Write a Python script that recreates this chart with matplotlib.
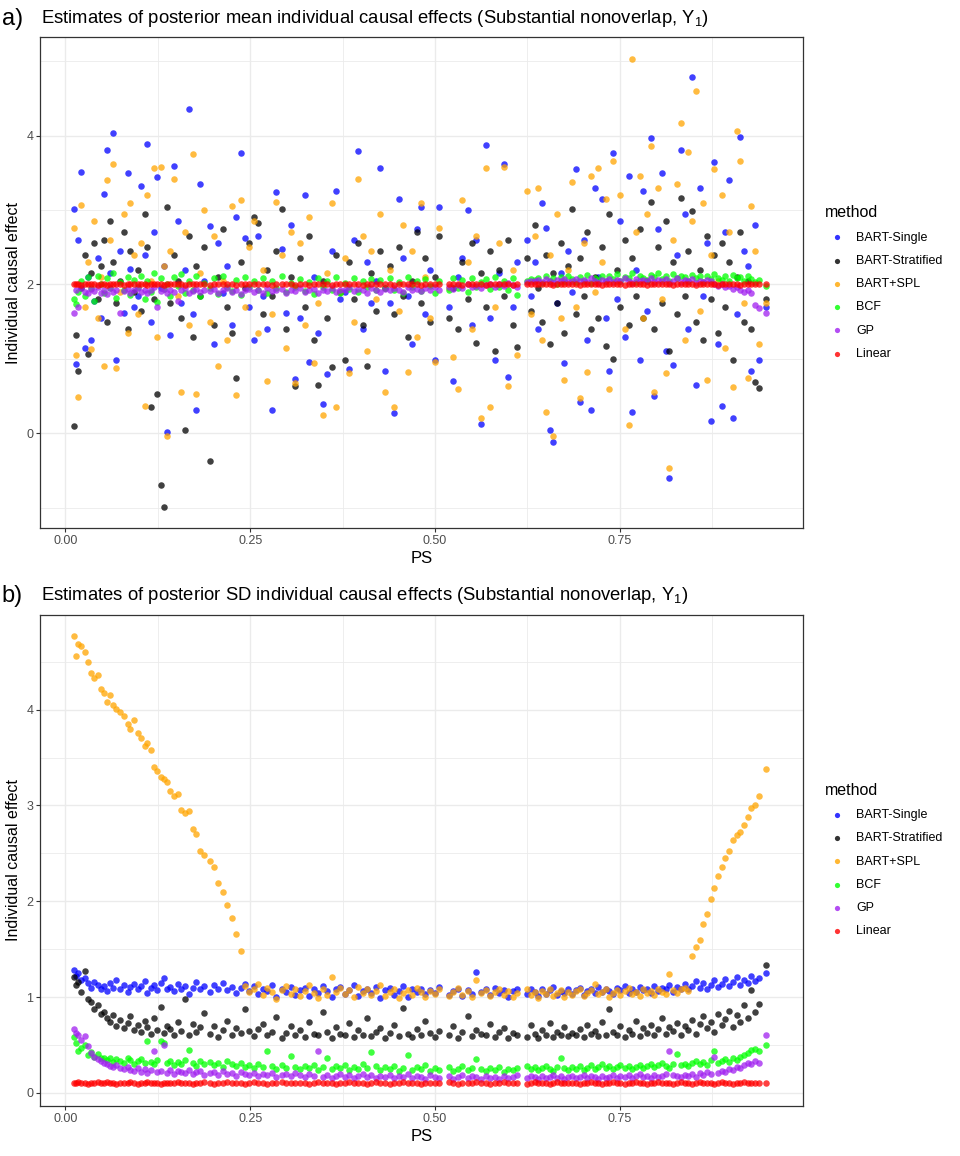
import matplotlib.pyplot as plt
from matplotlib.ticker import MultipleLocator

# propensity score of each unit (shared by every method)
ps = [
    0.011, 0.014, 0.017, 0.021, 0.026, 0.030, 0.035, 0.039, 0.044, 0.048,
    0.052, 0.056, 0.060, 0.065, 0.069, 0.074, 0.079, 0.084, 0.088, 0.093,
    0.098, 0.102, 0.107, 0.111, 0.116, 0.120, 0.124, 0.129, 0.133, 0.137,
    0.142, 0.147, 0.152, 0.157, 0.162, 0.167, 0.172, 0.177, 0.182, 0.188,
    0.195, 0.201, 0.207, 0.213, 0.219, 0.225, 0.231, 0.237, 0.243, 0.249,
    0.255, 0.261, 0.267, 0.273, 0.279, 0.285, 0.293, 0.299, 0.305, 0.311,
    0.318, 0.324, 0.330, 0.336, 0.342, 0.348, 0.354, 0.360, 0.366, 0.372,
    0.378, 0.384, 0.390, 0.396, 0.402, 0.408, 0.414, 0.420, 0.426, 0.432,
    0.439, 0.445, 0.451, 0.457, 0.463, 0.469, 0.475, 0.481, 0.487, 0.493,
    0.500, 0.506, 0.519, 0.525, 0.531, 0.537, 0.544, 0.550, 0.556, 0.562,
    0.569, 0.575, 0.581, 0.587, 0.593, 0.599, 0.605, 0.611, 0.625, 0.630,
    0.635, 0.640, 0.645, 0.650, 0.655, 0.660, 0.665, 0.670, 0.675, 0.680,
    0.686, 0.691, 0.696, 0.701, 0.706, 0.711, 0.716, 0.721, 0.726, 0.731,
    0.736, 0.741, 0.746, 0.751, 0.757, 0.762, 0.767, 0.772, 0.777, 0.782,
    0.787, 0.792, 0.797, 0.802, 0.807, 0.812, 0.817, 0.822, 0.827, 0.833,
    0.838, 0.843, 0.848, 0.853, 0.858, 0.863, 0.868, 0.873, 0.878, 0.883,
    0.888, 0.893, 0.898, 0.903, 0.908, 0.913, 0.918, 0.923, 0.928, 0.933,
    0.938, 0.948,
]

# ---- panel a: posterior mean ----
mean_single = [
    3.01, 0.93, 2.60, 3.51, 1.14, 2.10, 1.25, 1.78, 2.35, 1.55,
    3.22, 3.81, 2.15, 4.04, 0.99, 2.45, 1.62, 3.50, 2.21, 1.70,
    1.85, 3.32, 2.40, 3.89, 1.50, 2.70, 3.44, 1.95, 2.25, 0.02,
    1.32, 3.59, 2.85, 1.75, 2.20, 4.36, 1.60, 0.31, 3.35, 2.05,
    2.78, 1.20, 2.55, 1.88, 2.25, 1.45, 2.90, 3.77, 2.62, 1.70,
    1.25, 2.65, 1.85, 1.40, 0.31, 3.24, 2.48, 1.62, 2.80, 0.73,
    1.55, 3.20, 0.96, 2.10, 1.35, 0.39, 0.80, 2.45, 3.25, 1.80,
    1.90, 0.87, 2.60, 3.79, 1.40, 2.30, 1.75, 2.05, 3.56, 0.84,
    1.75, 0.28, 3.15, 2.35, 1.85, 1.20, 2.75, 3.04, 1.60, 2.20,
    0.98, 3.04, 1.70, 0.71, 2.10, 2.35, 3.00, 1.45, 2.60, 0.12,
    3.87, 1.55, 0.99, 2.15, 3.62, 0.76, 1.70, 2.30, 2.60, 1.85,
    2.30, 1.40, 3.10, 2.76, 0.05, -0.11, 1.75, 2.15, 0.94, 2.45,
    1.90, 3.55, 0.42, 2.60, 1.25, 0.32, 3.30, 2.10, 3.15, 1.55,
    0.84, 3.77, 1.80, 2.85, 1.30, 3.45, 0.29, 2.20, 0.99, 3.25,
    1.65, 3.97, 0.50, 2.75, 3.50, 1.10, -0.60, 0.92, 2.40, 3.81,
    2.95, 1.40, 4.78, 0.65, 3.30, 1.85, 2.55, 0.16, 3.64, 1.20,
    0.37, 2.70, 3.40, 0.21, 1.60, 3.98, 2.45, 2.25, 0.84, 2.80,
    0.98, 1.70,
]
mean_strat = [
    0.10, 1.32, 0.84, 1.95, 2.40, 1.07, 2.15, 2.55, 1.80, 2.25,
    2.60, 1.50, 2.85, 2.30, 1.75, 2.05, 2.70, 1.40, 2.45, 1.90,
    2.20, 1.65, 2.95, 2.50, 0.35, 1.80, 0.53, -0.69, -0.99, 3.04,
    1.75, 2.40, 2.05, 1.55, 0.05, 2.65, 1.30, 2.25, 1.85, 2.50,
    -0.37, 1.45, 2.10, 2.75, 1.70, 1.35, 0.75, 2.30, 1.95, 2.55,
    2.90, 2.83, 1.60, 2.20, 1.85, 2.45, 3.01, 1.40, 2.10, 0.64,
    2.35, 1.70, 2.65, 1.25, 0.65, 2.05, 1.55, 0.89, 2.40, 1.90,
    0.99, 2.30, 1.80, 2.55, 1.45, 0.90, 2.15, 1.65, 2.45, 1.95,
    2.25, 1.60, 2.50, 1.85, 1.30, 2.05, 2.70, 1.75, 2.35, 1.50,
    2.10, 2.65, 1.55, 1.95, 1.40, 2.30, 1.80, 2.55, 1.22, 2.15,
    1.70, 2.45, 1.11, 2.20, 1.85, 2.60, 1.45, 1.16, 2.35, 1.65,
    2.80, 1.95, 1.50, 2.40, 1.20, 2.15, 1.75, 2.55, 1.35, 2.25,
    3.01, 1.60, 2.35, 1.85, 2.70, 1.40, 2.10, 1.55, 2.50, 1.17,
    2.94, 1.00, 2.20, 1.70, 2.60, 1.45, 2.35, 1.85, 2.75, 1.55,
    2.05, 3.11, 1.40, 2.50, 1.75, 2.85, 1.11, 2.30, 1.60, 3.16,
    1.85, 2.45, 2.99, 1.50, 2.20, 1.25, 2.65, 1.80, 2.40, 1.35,
    2.55, 1.70, 2.30, 0.98, 2.10, 2.70, 1.50, 2.05, 1.40, 0.69,
    0.61, 1.80,
]
mean_spl = [
    2.76, 1.05, 0.49, 3.07, 1.70, 2.30, 1.13, 2.85, 1.55, 2.10,
    0.91, 3.40, 2.60, 3.62, 0.88, 1.90, 2.95, 1.35, 3.10, 2.40,
    1.60, 2.55, 0.37, 3.20, 2.05, 3.57, 1.30, 3.58, 2.25, -0.04,
    2.45, 3.42, 1.85, 0.56, 2.70, 1.45, 3.75, 0.53, 2.15, 3.00,
    1.50, 2.65, 0.90, 2.05, 1.25, 3.05, 0.51, 3.13, 1.70, 2.50,
    2.85, 1.35, 2.20, 0.70, 1.60, 3.11, 2.40, 1.15, 2.70, 0.68,
    2.55, 1.45, 2.90, 0.95, 1.75, 0.25, 2.15, 3.10, 0.36, 1.90,
    2.35, 0.81, 1.50, 3.42, 2.65, 1.10, 2.45, 1.80, 2.95, 0.56,
    2.20, 0.35, 1.65, 2.80, 0.83, 2.45, 1.30, 3.09, 2.10, 1.55,
    0.96, 2.76, 1.95, 1.02, 0.60, 3.13, 2.30, 1.40, 2.65, 0.20,
    3.56, 0.36, 1.70, 2.55, 3.58, 0.64, 2.20, 1.05, 3.25, 1.60,
    2.65, 3.30, 1.25, 0.29, 2.40, -0.04, 2.95, 1.55, 0.72, 2.20,
    3.38, 1.70, 0.47, 2.55, 0.83, 3.45, 1.90, 3.56, 2.30, 3.15,
    0.60, 3.66, 2.05, 3.20, 1.40, 0.11, 5.03, 2.70, 3.45, 1.55,
    2.95, 3.86, 0.56, 3.30, 1.80, 0.81, -0.46, 2.60, 3.35, 4.17,
    1.25, 3.78, 2.85, 4.60, 1.65, 3.10, 0.72, 2.40, 3.55, 2.05,
    3.20, 1.15, 2.70, 0.62, 4.06, 3.66, 1.75, 0.75, 3.05, 2.45,
    1.20, 1.75,
]
mean_bcf = [
    1.80, 1.74, 1.90, 2.05, 1.85, 2.10, 1.95, 1.78, 2.12, 2.00,
    1.88, 2.08, 1.95, 2.15, 1.82, 2.03, 1.92, 2.10, 1.86, 2.06,
    1.97, 2.12, 1.80, 2.04, 1.90, 2.16, 1.76, 2.08, 1.94, 2.01,
    1.85, 2.10, 1.98, 2.14, 1.89, 2.05, 1.93, 2.11, 1.84, 2.02,
    1.95, 2.08, 1.87, 2.12, 1.97, 1.91, 2.06, 1.86, 2.10, 1.96,
    2.04, 1.92, 2.09, 1.88, 2.05, 1.95, 2.11, 1.90, 2.02, 1.97,
    2.07, 1.91, 2.03, 1.87, 2.08, 1.96, 2.05, 1.93, 2.10, 1.89,
    2.02, 1.94, 2.09, 1.90, 2.04, 1.97, 2.07, 1.92, 2.06, 1.95,
    2.08, 1.93, 2.03, 1.89, 2.10, 1.96, 2.05, 1.91, 2.07, 1.98,
    1.88, 2.04, 1.92, 2.08, 1.95, 2.06, 1.90, 2.09, 1.97, 2.03,
    2.07, 1.94, 2.10, 1.96, 2.05, 1.92, 2.08, 1.86, 2.04, 2.07,
    2.06, 2.09, 2.02, 2.11, 2.04, 2.08, 2.00, 2.10, 2.05, 2.12,
    2.07, 2.03, 2.10, 2.05, 2.13, 2.02, 2.09, 2.06, 2.12, 2.04,
    2.11, 2.07, 2.14, 2.05, 2.10, 2.08, 2.15, 2.03, 2.12, 2.09,
    2.06, 2.13, 2.10, 2.16, 2.07, 2.11, 2.04, 2.14, 2.08, 2.12,
    2.10, 2.05, 2.13, 2.08, 2.11, 2.03, 2.12, 2.07, 2.14, 2.09,
    2.06, 2.11, 2.04, 2.13, 2.08, 2.10, 2.05, 2.12, 2.07, 2.03,
    2.06, 1.98,
]
mean_gp = [
    1.62, 1.93, 1.70, 1.95, 1.90, 1.88, 1.94, 1.91, 1.96, 1.89,
    1.92, 1.87, 1.95, 1.90, 1.93, 1.62, 1.91, 1.94, 1.89, 1.92,
    1.95, 1.90, 1.93, 1.88, 1.92, 1.96, 1.70, 1.91, 1.94, 1.89,
    1.93, 1.90, 1.78, 1.92, 1.95, 1.89, 1.91, 1.94, 1.90, 1.93,
    1.91, 1.94, 1.88, 1.92, 1.95, 1.90, 1.93, 1.87, 1.92, 1.94,
    1.90, 1.93, 1.89, 1.95, 1.91, 1.92, 1.94, 1.88, 1.93, 1.91,
    1.95, 1.90, 1.92, 1.94, 1.89, 1.93, 1.91, 1.95, 1.90, 1.92,
    1.93, 1.96, 1.91, 1.94, 1.92, 1.89, 1.95, 1.93, 1.90, 1.94,
    1.92, 1.95, 1.93, 1.90, 1.96, 1.92, 1.94, 1.91, 1.95, 1.93,
    1.96, 1.93, 1.97, 1.94, 1.99, 1.95, 2.00, 1.96, 1.98, 1.95,
    1.99, 2.01, 1.97, 2.00, 1.98, 2.02, 1.99, 1.97, 2.03, 2.05,
    2.04, 2.06, 2.03, 2.07, 2.05, 2.02, 2.06, 2.04, 2.07, 2.03,
    2.05, 2.07, 2.04, 2.06, 2.03, 2.08, 2.05, 2.02, 2.06, 2.04,
    2.07, 2.03, 2.06, 2.04, 2.08, 2.05, 2.02, 2.07, 2.04, 2.06,
    2.05, 2.08, 2.03, 2.06, 2.04, 2.07, 2.02, 2.05, 2.08, 2.03,
    2.06, 2.04, 2.07, 2.02, 2.05, 2.03, 2.06, 2.04, 2.01, 1.98,
    2.00, 1.96, 1.98, 1.94, 1.97, 1.92, 1.90, 1.93, 1.88, 1.72,
    1.68, 1.62,
]
mean_linear = [
    2.00, 2.01, 2.00, 1.99, 2.00, 2.00, 2.01, 2.00, 1.99, 2.00,
    2.00, 1.99, 2.00, 2.01, 2.00, 2.00, 1.99, 2.00, 2.01, 2.00,
    2.01, 2.00, 2.00, 1.99, 2.00, 2.01, 2.00, 2.00, 1.99, 2.00,
    2.00, 2.00, 2.01, 2.00, 1.99, 2.00, 2.00, 2.01, 2.00, 2.00,
    1.99, 2.00, 2.00, 2.01, 2.00, 2.00, 1.99, 2.00, 2.00, 2.01,
    2.00, 2.01, 2.00, 2.00, 1.99, 2.00, 2.01, 2.00, 2.00, 1.99,
    2.00, 2.00, 1.99, 2.00, 2.01, 2.00, 2.00, 1.99, 2.00, 2.01,
    2.01, 2.00, 2.00, 2.00, 1.99, 2.00, 2.01, 2.00, 2.00, 2.00,
    2.00, 1.99, 2.00, 2.01, 2.00, 2.00, 2.00, 1.99, 2.01, 2.00,
    2.00, 2.00, 2.01, 2.00, 2.00, 1.99, 2.00, 2.00, 2.01, 2.00,
    1.99, 2.00, 2.00, 2.01, 2.00, 2.00, 1.99, 2.00, 2.00, 2.01,
    2.00, 2.01, 2.00, 2.00, 2.00, 1.99, 2.00, 2.01, 2.00, 2.00,
    2.01, 2.00, 1.99, 2.00, 2.00, 2.01, 2.00, 2.00, 1.99, 2.00,
    2.00, 2.00, 2.01, 2.00, 1.99, 2.00, 2.00, 2.01, 2.00, 2.00,
    1.99, 2.00, 2.00, 2.00, 2.01, 2.00, 2.00, 1.99, 2.00, 2.01,
    2.00, 2.01, 2.00, 1.99, 2.00, 2.00, 2.01, 2.00, 2.00, 1.99,
    2.00, 2.00, 2.01, 2.00, 2.00, 1.99, 2.00, 2.01, 2.00, 2.00,
    2.00, 2.00,
]

# ---- panel b: posterior SD ----
sd_single = [
    1.28, 1.22, 1.25, 1.18, 1.20, 1.15, 1.10, 1.16, 1.13, 1.08,
    1.12, 1.06, 1.15, 1.10, 1.18, 1.09, 1.13, 1.05, 1.11, 1.14,
    1.08, 1.12, 1.17, 1.04, 1.10, 1.13, 1.07, 1.15, 1.20, 1.09,
    1.11, 1.06, 1.14, 1.09, 1.12, 1.03, 1.10, 1.16, 1.08, 1.12,
    1.05, 1.13, 1.09, 1.15, 1.07, 1.11, 1.04, 1.10, 1.14, 1.06,
    1.12, 1.03, 1.09, 1.06, 1.13, 1.00, 1.08, 1.05, 1.11, 1.02,
    1.07, 1.10, 1.01, 1.09, 1.04, 1.12, 1.06, 1.00, 1.08, 1.11,
    1.03, 1.07, 1.13, 1.01, 1.06, 1.09, 1.04, 1.11, 0.99, 1.07,
    1.10, 1.02, 1.06, 1.12, 1.00, 1.08, 1.05, 1.09, 1.03, 1.07,
    1.04, 1.11, 1.02, 1.06, 1.09, 1.01, 1.07, 1.03, 1.26, 1.05,
    1.08, 1.02, 1.10, 1.04, 1.07, 1.00, 1.06, 1.09, 1.03, 1.08,
    1.05, 1.01, 1.09, 1.03, 1.07, 1.11, 1.02, 1.06, 1.04, 1.08,
    1.03, 1.07, 1.10, 1.02, 1.06, 1.09, 1.04, 1.11, 1.05, 1.08,
    1.06, 1.03, 1.10, 1.07, 1.12, 1.04, 1.08, 1.05, 1.11, 1.07,
    1.09, 1.04, 1.12, 1.06, 1.10, 1.08, 1.13, 1.05, 1.11, 1.09,
    1.14, 1.08, 1.12, 1.17, 1.10, 1.15, 1.09, 1.13, 1.18, 1.11,
    1.14, 1.19, 1.12, 1.16, 1.21, 1.13, 1.18, 1.15, 1.22, 1.17,
    1.20, 1.25,
]
sd_strat = [
    1.21, 1.13, 1.16, 1.05, 1.27, 0.98, 0.95, 0.88, 0.92, 0.82,
    0.85, 0.78, 0.74, 0.81, 0.70, 0.76, 0.68, 0.73, 0.80, 0.66,
    0.71, 0.64, 0.75, 0.69, 0.62, 0.78, 0.66, 0.90, 0.63, 0.70,
    0.67, 0.61, 0.74, 0.65, 0.98, 0.60, 0.72, 0.64, 0.69, 0.83,
    0.62, 0.70, 0.58, 0.66, 0.75, 0.61, 0.68, 0.63, 0.88, 0.65,
    0.59, 0.67, 0.72, 0.60, 0.64, 0.79, 0.57, 0.63, 0.70, 0.61,
    0.66, 0.58, 0.74, 0.62, 0.60, 0.85, 0.64, 0.57, 0.69, 0.62,
    0.60, 0.73, 0.58, 0.66, 0.61, 0.78, 0.59, 0.64, 0.68, 0.57,
    0.63, 0.71, 0.59, 0.89, 0.62, 0.58, 0.67, 0.60, 0.75, 0.63,
    0.58, 0.65, 0.61, 0.70, 0.57, 0.64, 0.80, 0.59, 0.66, 0.62,
    0.60, 0.72, 0.58, 0.64, 0.68, 0.57, 0.63, 0.61, 0.58, 0.71,
    0.62, 0.57, 0.66, 0.60, 0.73, 0.58, 0.64, 0.61, 0.69, 0.59,
    0.63, 0.60, 0.67, 0.58, 0.71, 0.62, 0.65, 0.59, 0.74, 0.61,
    0.88, 0.64, 0.60, 0.70, 0.58, 0.66, 0.62, 0.75, 0.59, 0.68,
    0.63, 0.71, 0.60, 0.67, 0.78, 0.62, 0.69, 0.65, 0.73, 0.61,
    0.70, 0.66, 0.76, 0.62, 0.72, 0.80, 0.68, 0.74, 0.64, 0.82,
    0.71, 0.77, 0.86, 0.69, 0.81, 0.74, 0.92, 0.78, 1.07, 0.85,
    0.93, 1.34,
]
sd_spl = [
    4.77, 4.56, 4.69, 4.66, 4.60, 4.50, 4.38, 4.33, 4.36, 4.22,
    4.17, 4.08, 4.15, 4.05, 4.01, 3.98, 3.93, 3.85, 3.80, 3.89,
    3.76, 3.70, 3.62, 3.65, 3.58, 3.40, 3.36, 3.30, 3.28, 3.24,
    3.15, 3.10, 3.12, 2.95, 2.92, 2.94, 2.75, 2.70, 2.53, 2.48,
    2.42, 2.36, 2.19, 2.10, 1.96, 1.83, 1.66, 1.48, 1.12, 1.05,
    1.08, 1.14, 1.02, 1.10, 1.05, 0.98, 1.07, 1.12, 1.03, 1.09,
    1.01, 1.06, 1.13, 1.04, 0.99, 1.08, 1.02, 1.21, 1.05, 1.10,
    1.03, 1.07, 1.00, 1.11, 1.04, 1.08, 1.02, 1.06, 1.13, 1.01,
    1.05, 1.09, 0.99, 1.04, 1.07, 1.02, 1.10, 1.05, 1.00, 1.06,
    1.03, 1.08, 1.01, 1.05, 1.10, 1.02, 1.06, 1.00, 1.18, 1.04,
    1.07, 1.01, 1.05, 1.09, 1.02, 1.06, 1.00, 1.04, 1.08, 1.02,
    1.05, 0.99, 1.06, 1.03, 1.08, 1.01, 1.04, 1.07, 1.00, 1.05,
    1.02, 1.06, 1.09, 1.01, 1.04, 1.07, 1.14, 1.03, 1.05, 1.08,
    1.00, 1.04, 1.07, 1.02, 1.06, 1.10, 1.03, 1.05, 1.01, 1.08,
    1.04, 1.06, 1.02, 1.09, 1.05, 1.03, 1.24, 1.07, 1.04, 1.08,
    1.10, 1.06, 1.43, 1.52, 1.60, 1.76, 1.87, 2.02, 2.14, 2.26,
    2.36, 2.45, 2.52, 2.64, 2.69, 2.72, 2.80, 2.88, 2.97, 3.00,
    3.10, 3.38,
]
sd_bcf = [
    0.58, 0.52, 0.44, 0.47, 0.50, 0.40, 0.43, 0.38, 0.41, 0.36,
    0.37, 0.34, 0.36, 0.32, 0.35, 0.33, 0.31, 0.36, 0.34, 0.30,
    0.33, 0.35, 0.31, 0.54, 0.32, 0.30, 0.34, 0.54, 0.52, 0.31,
    0.33, 0.29, 0.32, 0.30, 0.34, 0.45, 0.31, 0.28, 0.33, 0.30,
    0.32, 0.29, 0.31, 0.27, 0.33, 0.30, 0.28, 0.31, 0.27, 0.29,
    0.26, 0.30, 0.27, 0.44, 0.28, 0.25, 0.29, 0.26, 0.39, 0.27,
    0.25, 0.28, 0.26, 0.29, 0.24, 0.27, 0.36, 0.25, 0.28, 0.26,
    0.29, 0.24, 0.27, 0.25, 0.30, 0.26, 0.43, 0.28, 0.24, 0.27,
    0.25, 0.28, 0.23, 0.26, 0.40, 0.24, 0.27, 0.25, 0.29, 0.23,
    0.26, 0.24, 0.27, 0.23, 0.25, 0.28, 0.24, 0.26, 0.35, 0.25,
    0.23, 0.26, 0.24, 0.27, 0.22, 0.25, 0.24, 0.26, 0.28, 0.25,
    0.27, 0.24, 0.26, 0.28, 0.25, 0.23, 0.27, 0.36, 0.26, 0.24,
    0.27, 0.25, 0.28, 0.24, 0.26, 0.29, 0.25, 0.27, 0.30, 0.26,
    0.28, 0.25, 0.27, 0.29, 0.26, 0.28, 0.25, 0.27, 0.29, 0.26,
    0.28, 0.30, 0.27, 0.29, 0.31, 0.28, 0.26, 0.30, 0.41, 0.29,
    0.30, 0.28, 0.31, 0.33, 0.30, 0.32, 0.29, 0.34, 0.44, 0.31,
    0.33, 0.35, 0.32, 0.36, 0.34, 0.38, 0.40, 0.42, 0.45, 0.46,
    0.44, 0.50,
]
sd_gp = [
    0.67, 0.63, 0.60, 0.55, 0.59, 0.49, 0.42, 0.38, 0.35, 0.33,
    0.31, 0.30, 0.28, 0.27, 0.29, 0.26, 0.25, 0.27, 0.24, 0.23,
    0.26, 0.22, 0.25, 0.21, 0.24, 0.44, 0.22, 0.23, 0.50, 0.21,
    0.24, 0.20, 0.23, 0.22, 0.21, 0.24, 0.20, 0.22, 0.23, 0.19,
    0.21, 0.22, 0.19, 0.23, 0.20, 0.21, 0.18, 0.22, 0.20, 0.19,
    0.21, 0.18, 0.20, 0.19, 0.21, 0.17, 0.19, 0.20, 0.18, 0.21,
    0.19, 0.17, 0.20, 0.18, 0.44, 0.17, 0.19, 0.16, 0.18, 0.20,
    0.17, 0.19, 0.16, 0.18, 0.20, 0.17, 0.19, 0.16, 0.18, 0.17,
    0.19, 0.16, 0.18, 0.17, 0.20, 0.16, 0.18, 0.17, 0.15, 0.19,
    0.17, 0.16, 0.18, 0.15, 0.17, 0.19, 0.16, 0.18, 0.17, 0.15,
    0.18, 0.16, 0.17, 0.15, 0.18, 0.16, 0.17, 0.19, 0.16, 0.18,
    0.17, 0.15, 0.18, 0.16, 0.17, 0.19, 0.16, 0.18, 0.15, 0.17,
    0.18, 0.16, 0.17, 0.19, 0.16, 0.18, 0.17, 0.15, 0.18, 0.16,
    0.17, 0.19, 0.16, 0.18, 0.17, 0.19, 0.16, 0.18, 0.20, 0.17,
    0.18, 0.16, 0.19, 0.17, 0.18, 0.20, 0.44, 0.19, 0.18, 0.17,
    0.19, 0.18, 0.20, 0.17, 0.21, 0.19, 0.22, 0.20, 0.38, 0.21,
    0.23, 0.22, 0.25, 0.24, 0.27, 0.26, 0.29, 0.31, 0.30, 0.33,
    0.31, 0.60,
]
sd_linear = [
    0.10, 0.10, 0.11, 0.10, 0.10, 0.09, 0.10, 0.10, 0.11, 0.10,
    0.10, 0.11, 0.10, 0.10, 0.09, 0.10, 0.10, 0.10, 0.11, 0.10,
    0.09, 0.10, 0.10, 0.11, 0.10, 0.10, 0.10, 0.09, 0.10, 0.10,
    0.10, 0.10, 0.11, 0.10, 0.10, 0.10, 0.09, 0.10, 0.10, 0.11,
    0.10, 0.09, 0.10, 0.10, 0.11, 0.10, 0.10, 0.10, 0.09, 0.10,
    0.11, 0.10, 0.10, 0.09, 0.10, 0.10, 0.11, 0.10, 0.10, 0.10,
    0.10, 0.10, 0.09, 0.10, 0.11, 0.10, 0.10, 0.10, 0.09, 0.10,
    0.10, 0.11, 0.10, 0.10, 0.10, 0.09, 0.10, 0.11, 0.10, 0.10,
    0.09, 0.10, 0.10, 0.11, 0.10, 0.10, 0.10, 0.09, 0.10, 0.10,
    0.10, 0.10, 0.11, 0.10, 0.09, 0.10, 0.10, 0.10, 0.11, 0.10,
    0.10, 0.09, 0.10, 0.10, 0.11, 0.10, 0.10, 0.10, 0.09, 0.10,
    0.11, 0.10, 0.10, 0.10, 0.09, 0.10, 0.11, 0.10, 0.10, 0.10,
    0.10, 0.10, 0.09, 0.10, 0.10, 0.11, 0.10, 0.10, 0.09, 0.10,
    0.10, 0.11, 0.10, 0.10, 0.09, 0.10, 0.10, 0.11, 0.10, 0.10,
    0.09, 0.10, 0.10, 0.11, 0.10, 0.10, 0.10, 0.09, 0.10, 0.11,
    0.10, 0.10, 0.09, 0.10, 0.11, 0.10, 0.10, 0.10, 0.09, 0.10,
    0.11, 0.10, 0.10, 0.09, 0.10, 0.10, 0.11, 0.10, 0.10, 0.10,
    0.10, 0.10,
]

methods = ['BART-Single', 'BART-Stratified', 'BART+SPL', 'BCF', 'GP', 'Linear']
colors = ['#0000FF', '#000000', '#FFA500', '#00FF00', '#A020F0', '#FF0000']

plt.rcParams['font.family'] = ['Liberation Sans', 'DejaVu Sans']

GRID = '#EBEBEB'
DARK = '#333333'


def draw_panel(ax, series, ylim, major, minor):
    for vals, name, c in zip(series, methods, colors):
        ax.scatter(ps, vals, s=22, color=c, alpha=0.75, linewidths=0,
                   label=name, zorder=3)

    ax.set_xlim(-0.034, 0.998)
    ax.set_ylim(*ylim)
    ax.set_xticks([0.0, 0.25, 0.5, 0.75])
    ax.set_xticklabels(['0.00', '0.25', '0.50', '0.75'])
    ax.xaxis.set_minor_locator(MultipleLocator(0.125))
    ax.yaxis.set_major_locator(MultipleLocator(major))
    ax.yaxis.set_minor_locator(MultipleLocator(minor))
    ax.grid(which='major', color=GRID, lw=1.0, zorder=0)
    ax.grid(which='minor', color=GRID, lw=0.6, zorder=0)
    ax.set_axisbelow(True)
    ax.tick_params(which='major', length=3, width=0.8, color=DARK,
                   labelsize=9, labelcolor='#4D4D4D', pad=2)
    ax.tick_params(which='minor', length=0)
    for sp in ax.spines.values():
        sp.set_color(DARK)
        sp.set_linewidth(0.9)

    ax.set_xlabel('PS', fontsize=12, labelpad=3)
    ax.set_ylabel('Individual causal effect', fontsize=11.5, labelpad=4)

    leg = ax.legend(loc='center left', bbox_to_anchor=(1.012, 0.5),
                    frameon=False, title='method', fontsize=9,
                    title_fontsize=11.5, markerscale=0.8,
                    handletextpad=0.5, labelspacing=0.9,
                    borderaxespad=0.6, alignment='left')
    for h in leg.legend_handles:
        h.set_alpha(0.8)


fig = plt.figure(figsize=(9.6, 11.56), dpi=100)
ax_a = fig.add_axes([0.042, 0.5433, 0.7945, 0.4245])
ax_b = fig.add_axes([0.042, 0.0435, 0.7945, 0.4247])

draw_panel(ax_a, [mean_single, mean_strat, mean_spl, mean_bcf, mean_gp, mean_linear],
           (-1.27, 5.32), 2, 1)
draw_panel(ax_b, [sd_single, sd_strat, sd_spl, sd_bcf, sd_gp, sd_linear],
           (-0.133, 4.99), 1, 0.5)

fig.text(0.002, 0.978, 'a)', fontsize=17, va='baseline')
fig.text(0.0424, 0.9798,
         'Estimates of posterior mean individual causal effects '
         '(Substantial nonoverlap, $\\mathregular{Y_1}$)',
         fontsize=13.3, va='baseline')
fig.text(0.002, 0.4795, 'b)', fontsize=17, va='baseline')
fig.text(0.0424, 0.481,
         'Estimates of posterior SD individual causal effects '
         '(Substantial nonoverlap, $\\mathregular{Y_1}$)',
         fontsize=13.3, va='baseline')

fig.savefig('out.png', dpi=100)
